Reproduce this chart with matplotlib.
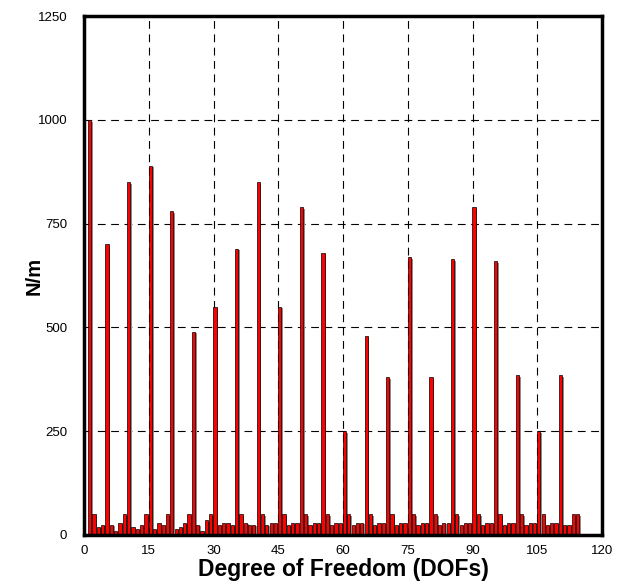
import numpy as np
import matplotlib
matplotlib.use('Agg')
import matplotlib.pyplot as plt
import matplotlib.patheffects as pe

plt.rcParams['font.family'] = ['Liberation Sans', 'DejaVu Sans']

# stiffness per degree of freedom, DOF 1..114
dofs = np.arange(1, 115)
stiffness = [
    1000, 50, 20, 25,
    700, 25, 10, 30, 50,
    850, 20, 15, 25, 50,
    890, 15, 30, 25, 50,
    780, 15, 20, 30, 50,
    490, 25, 10, 35, 50,
    550, 25, 30, 30, 25,
    690, 50, 30, 25, 25,
    850, 50, 25, 30, 30,
    550, 50, 25, 30, 30,
    790, 50, 25, 30, 30,
    680, 50, 25, 30, 30,
    250, 50, 25, 30, 30,
    480, 50, 25, 30, 30,
    380, 50, 25, 30, 30,
    670, 50, 25, 30, 30,
    380, 50, 25, 30, 30,
    665, 50, 25, 30, 30,
    790, 50, 25, 30, 30,
    660, 50, 25, 30, 30,
    385, 50, 25, 30, 30,
    250, 50, 25, 30, 30,
    385, 25, 25, 50, 50,
]

xticks = np.arange(0, 121, 15)
yticks = np.arange(0, 1251, 250)

fig = plt.figure(figsize=(6.22, 5.85), dpi=100)
ax = fig.add_axes([0.135, 0.0855, 0.833, 0.887])

bars = ax.bar(dofs + 0.35, stiffness, width=0.75, color='#ff0000',
              edgecolor='black', linewidth=0.5, zorder=3)
for b in bars:
    b.set_path_effects([pe.SimplePatchShadow(offset=(1.2, -1.2), shadow_rgbFace='0.55', alpha=1.0),
                        pe.Normal()])

ax.set_xlim(0, 120)
ax.set_ylim(0, 1250)
ax.set_xticks(xticks)
ax.set_yticks(yticks)
ax.tick_params(length=0, labelsize=9.5)
ax.tick_params(axis='y', pad=12)
ax.tick_params(axis='x', pad=7)

ax.grid(True, color='black', linestyle=(0, (7, 5)), linewidth=0.8, zorder=0)
ax.set_axisbelow(True)

for s in ax.spines.values():
    s.set_linewidth(2.5)
    s.set_zorder(4)

ax.set_xlabel('Degree of Freedom (DOFs)', fontsize=16.5, fontweight='bold')
ax.set_ylabel('N/m', fontsize=14.5, fontweight='bold')
ax.xaxis.set_label_coords(0.5, -0.045)
ax.yaxis.set_label_coords(-0.078, 0.5)

fig.savefig('out.png', dpi=100)
